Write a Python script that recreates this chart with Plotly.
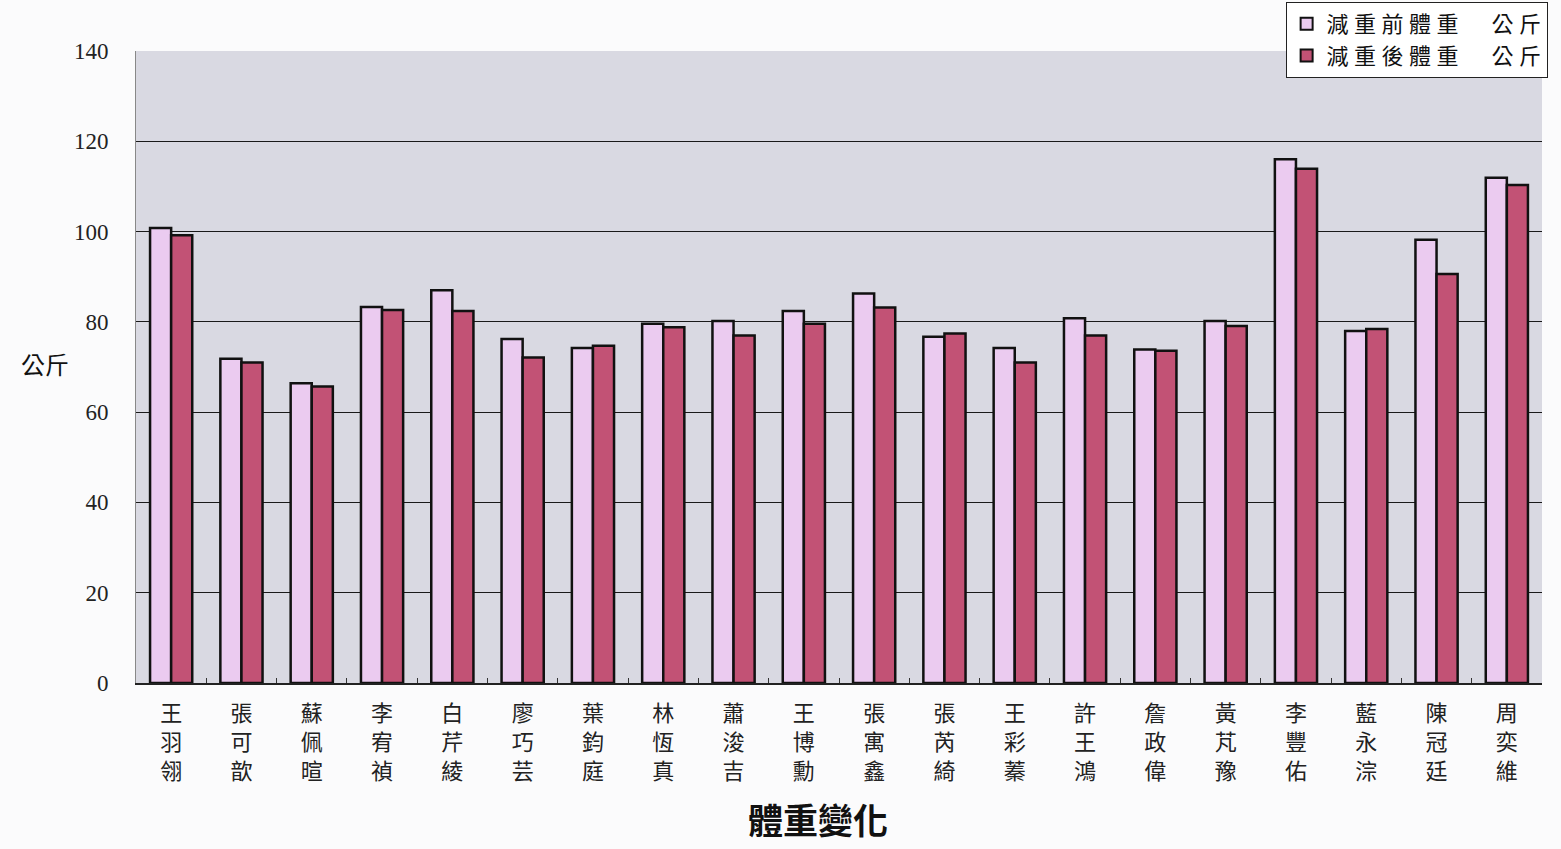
import plotly.graph_objects as go

# Students (name characters stacked vertically on the axis)
names = ["王羽翎", "張可歆", "蘇佩暄", "李宥禎", "白芹綾", "廖巧芸", "葉鈞庭",
         "林恆真", "蕭浚吉", "王博勳", "張寓鑫", "張芮綺", "王彩蓁", "許王鴻",
         "詹政偉", "黃芃豫", "李豐佑", "藍永淙", "陳冠廷", "周奕維"]

# Weight before and after (kg)
before_kg = [100.8, 71.8, 66.4, 83.3, 87.0, 76.2, 74.2,
             79.6, 80.2, 82.4, 86.3, 76.7, 74.2, 80.8,
             73.9, 80.2, 116.0, 78.0, 98.2, 111.9]
after_kg = [99.2, 71.0, 65.7, 82.6, 82.4, 72.1, 74.7,
            78.8, 77.0, 79.6, 83.2, 77.4, 71.0, 77.0,
            73.6, 79.1, 113.9, 78.4, 90.6, 110.3]

series_names = ["減重前體重", "減重後體重"]
unit = "公斤"
y_ticks = [0, 20, 40, 60, 80, 100, 120, 140]

labels = ["<br>".join(list(n)) for n in names]

SP = "\u2005"  # four-per-em space for letter spacing in the legend


def spaced(s):
    return SP.join(list(s))


legend_names = [spaced(n) + "\u2003\u2002" + spaced(unit) for n in series_names]

CJK = "Noto Sans CJK TC, Noto Sans CJK SC, sans-serif"
SERIF = "Liberation Serif, DejaVu Serif, serif"

fig = go.Figure()
fig.add_trace(go.Bar(
    x=labels, y=before_kg, name=legend_names[0],
    marker=dict(color="#ebcbf0", line=dict(color="#111111", width=2.5)),
))
fig.add_trace(go.Bar(
    x=labels, y=after_kg, name=legend_names[1],
    marker=dict(color="#c25275", line=dict(color="#111111", width=2.5)),
))

fig.update_layout(
    width=1561, height=849,
    margin=dict(l=136, r=19, t=51, b=166, autoexpand=False),
    paper_bgcolor="#fbfbfc",
    plot_bgcolor="#d9d9e2",
    barmode="group",
    bargap=0.4,
    bargroupgap=0,
    showlegend=True,
    legend=dict(
        x=1.004, xanchor="right", y=1.0775, yanchor="top",
        bgcolor="#ffffff", bordercolor="#222222", borderwidth=1,
        font=dict(family=CJK, size=22, color="#111111"),
        tracegroupgap=0, itemsizing="constant", itemwidth=30,
        traceorder="normal",
    ),
    xaxis=dict(
        type="category",
        showline=True, linecolor="#222222", linewidth=2,
        tickson="boundaries", ticks="inside", ticklen=5, tickcolor="#333333",
        tickfont=dict(family=CJK, size=22, color="#222222"),
        ticklabelstandoff=10,
        showgrid=False,
        mirror=False,
    ),
    yaxis=dict(
        range=[0, 140], tickvals=y_ticks,
        showgrid=True, gridcolor="#1a1a1a", gridwidth=1,
        showline=True, linecolor="#888888", linewidth=1,
        ticks="", ticklen=0,
        tickfont=dict(family=SERIF, size=23, color="#222222"),
        ticklabelstandoff=22,
        zeroline=False,
    ),
    annotations=[
        dict(text="公斤", xref="paper", yref="paper", x=-0.065, y=0.505,
             xanchor="center", yanchor="middle", showarrow=False,
             font=dict(family=CJK, size=24, color="#111111")),
        dict(text="<b>體重變化</b>", xref="paper", yref="paper", x=0.485, y=-0.215,
             xanchor="center", yanchor="middle", showarrow=False, borderpad=0,
             font=dict(family=CJK, size=35, color="#111111")),
    ],
)

fig.write_html("out.html")
